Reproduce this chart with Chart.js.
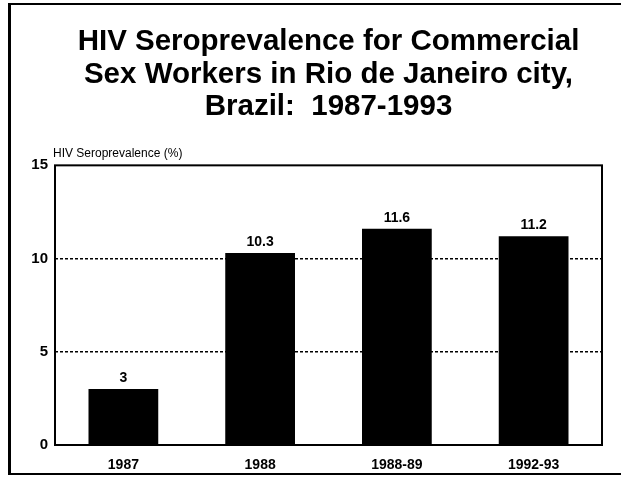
<!DOCTYPE html>
<html>
<head>
<meta charset="utf-8">
<title>HIV Seroprevalence - Rio de Janeiro</title>
<script src="https://cdn.jsdelivr.net/npm/chart.js@4.4.0/dist/chart.umd.min.js"></script>
<style>
    html, body { margin: 0; padding: 0; background: #fff; overflow: hidden; }
    #wrap { position: relative; width: 621px; height: 485px; }
    #frame {
        position: absolute; left: 8px; top: 3px; width: 660px; height: 472px;
        border: 2px solid #000; border-left-width: 3px; box-sizing: border-box;
        pointer-events: none;
    }
</style>
</head>
<body>
<div id="wrap">
    <canvas id="seroChart"></canvas>
    <div id="frame"></div>
</div>
<script>
const categories = ["1987", "1988", "1988-89", "1992-93"];
const seroprevalence = [3, 10.3, 11.6, 11.2];
const yTicks = [0, 5, 10, 15];
const titleLines = [
    "HIV Seroprevalence for Commercial",
    "Sex Workers in Rio de Janeiro city,",
    "Brazil:  1987-1993"
];
const yAxisTitle = "HIV Seroprevalence (%)";

const FONT = "'Liberation Sans', Arial, Helvetica, sans-serif";

// box round the plot area
const plotFrame = {
    id: "plotFrame",
    afterDraw(chart) {
        const { ctx, chartArea: a } = chart;
        ctx.save();
        ctx.strokeStyle = "#000";
        ctx.lineWidth = 2;
        ctx.strokeRect(a.left, a.top, a.right - a.left, a.bottom - a.top);
        ctx.restore();
    }
};

// value above each bar
const barLabels = {
    id: "barLabels",
    afterDatasetsDraw(chart) {
        const { ctx } = chart;
        const meta = chart.getDatasetMeta(0);
        ctx.save();
        ctx.fillStyle = "#000";
        ctx.font = "bold 14px " + FONT;
        ctx.textAlign = "center";
        ctx.textBaseline = "bottom";
        meta.data.forEach((bar, i) => {
            ctx.fillText(String(seroprevalence[i]), bar.x, bar.y - 4);
        });
        ctx.restore();
    }
};

// horizontal axis title sitting above the y axis
const yTitle = {
    id: "yTitle",
    afterDraw(chart) {
        const { ctx, chartArea: a } = chart;
        ctx.save();
        ctx.fillStyle = "#000";
        ctx.font = "12px " + FONT;
        ctx.textAlign = "left";
        ctx.textBaseline = "alphabetic";
        ctx.fillText(yAxisTitle, a.left - 2, a.top - 8);
        ctx.restore();
    }
};

window.onload = () => {
    const ctx = document.getElementById("seroChart").getContext("2d");
    new Chart(ctx, {
        type: "bar",
        data: {
            labels: categories,
            datasets: [{
                data: seroprevalence,
                backgroundColor: "#000",
                borderWidth: 0,
                categoryPercentage: 1,
                barPercentage: 0.51
            }]
        },
        options: {
            responsive: true,
            maintainAspectRatio: false,
            animation: false,
            layout: { padding: { left: 10, right: 19, top: 0, bottom: 10 } },
            plugins: {
                legend: { display: false },
                tooltip: { enabled: false },
                title: {
                    display: true,
                    text: titleLines,
                    fullSize: false,
                    color: "#000",
                    font: { family: FONT, size: 29.5, weight: "bold", lineHeight: 1.1 },
                    padding: { top: 26, bottom: 42 }
                }
            },
            scales: {
                x: {
                    grid: { display: false },
                    border: { display: false },
                    ticks: { color: "#000", font: { family: FONT, size: 14, weight: "bold" }, padding: 4 },
                    afterFit(scale) { scale.height = 30; }
                },
                y: {
                    min: yTicks[0],
                    max: yTicks[yTicks.length - 1],
                    afterBuildTicks(scale) { scale.ticks = yTicks.map(v => ({ value: v })); },
                    grid: {
                        drawTicks: false,
                        color: c => (c.tick.value > yTicks[0] && c.tick.value < yTicks[yTicks.length - 1]) ? "#000" : "rgba(0,0,0,0)",
                        lineWidth: 1.5
                    },
                    border: { display: false, dash: [3, 2] },
                    ticks: { color: "#000", font: { family: FONT, size: 15, weight: "bold" }, padding: 7 },
                    afterFit(scale) { scale.width = 45; }
                }
            }
        },
        plugins: [plotFrame, barLabels, yTitle]
    });
};
</script>
</body>
</html>
